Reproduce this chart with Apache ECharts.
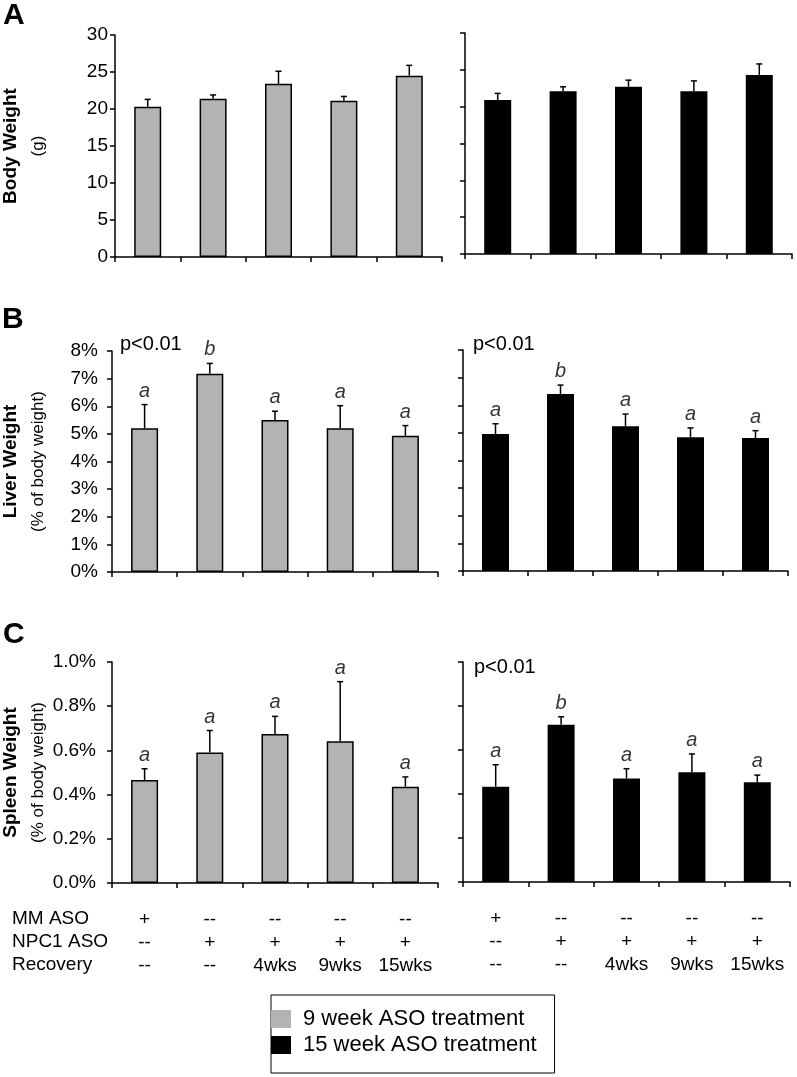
<!DOCTYPE html>
<html><head><meta charset="utf-8">
<script src="https://cdn.jsdelivr.net/npm/echarts@6/dist/echarts.min.js"></script>
<style>html,body{margin:0;padding:0;background:#fff}#c{width:797px;height:1077px}</style>
</head><body><div id="c"></div>
<script>
// ---------- data ----------
const categories = ['G1', 'G2', 'G3', 'G4', 'G5'];
const mmAso = ['+', '--', '--', '--', '--'];
const npc1Aso = ['--', '+', '+', '+', '+'];
const recovery = ['--', '--', '4wks', '9wks', '15wks'];
const rowLabels = ['MM ASO', 'NPC1 ASO', 'Recovery'];
const seriesNames = ['9 week ASO treatment', '15 week ASO treatment'];

const bodyTicks = [0, 5, 10, 15, 20, 25, 30];
const liverTicks = [0, 1, 2, 3, 4, 5, 6, 7, 8];
const spleenTicks = [0, 0.2, 0.4, 0.6, 0.8, 1.0];

const body9 = [20.3, 21.4, 23.4, 21.1, 24.5];
const body9Err = [1.0, 0.5, 1.7, 0.6, 1.4];
const body15 = [20.9, 22.1, 22.7, 22.1, 24.3];
const body15Err = [0.9, 0.6, 0.9, 1.4, 1.5];

const liver9 = [5.2, 7.18, 5.5, 5.2, 4.93];
const liver9Err = [0.86, 0.37, 0.32, 0.82, 0.37];
const liver9Letters = ['a', 'b', 'a', 'a', 'a'];
const liver15 = [4.96, 6.41, 5.24, 4.84, 4.81];
const liver15Err = [0.37, 0.32, 0.44, 0.34, 0.27];
const liver15Letters = ['a', 'b', 'a', 'a', 'a'];

const spleen9 = [0.466, 0.59, 0.674, 0.641, 0.436];
const spleen9Err = [0.051, 0.10, 0.08, 0.27, 0.044];
const spleen9Letters = ['a', 'a', 'a', 'a', 'a'];
const spleen15 = [0.433, 0.715, 0.471, 0.499, 0.453];
const spleen15Err = [0.10, 0.036, 0.044, 0.083, 0.033];
const spleen15Letters = ['a', 'b', 'a', 'a', 'a'];

const pTexts = ['p<0.01', 'p<0.01', 'p<0.01'];
const panelLetters = ['A', 'B', 'C'];

// ---------- build ----------
const FONT = '"Liberation Sans", Arial, sans-serif';
const GRAY = '#b3b3b3';

const panels = [
  { grid: {left: 115, top: 35, width: 327, height: 222}, vals: body9, err: body9Err, letters: null, ticks: bodyTicks, fmt: v => String(v), showY: true, showX: false, color: GRAY, name: seriesNames[0], labMargin: 7, yName: '{b|Body Weight}\n{s|(g)}', nameGap: 61 },
  { grid: {left: 465, top: 33, width: 327, height: 221}, vals: body15, err: body15Err, letters: null, ticks: bodyTicks, fmt: v => String(v), showY: false, showX: false, color: '#000', name: seriesNames[1] },
  { grid: {left: 112, top: 351, width: 326, height: 221}, vals: liver9, err: liver9Err, letters: liver9Letters, ticks: liverTicks, fmt: v => v + '%', showY: true, showX: false, color: GRAY, name: seriesNames[0], labMargin: 14, yName: '{b|Liver Weight}\n{s|(% of body weight)}', nameGap: 58 },
  { grid: {left: 463, top: 350, width: 325, height: 221}, vals: liver15, err: liver15Err, letters: liver15Letters, ticks: liverTicks, fmt: v => v + '%', showY: false, showX: false, color: '#000', name: seriesNames[1] },
  { grid: {left: 112, top: 662, width: 326, height: 221}, vals: spleen9, err: spleen9Err, letters: spleen9Letters, ticks: spleenTicks, fmt: v => v.toFixed(1) + '%', showY: true, showX: true, color: GRAY, name: seriesNames[0], labMargin: 16, yName: '{b|Spleen Weight}\n{s|(% of body weight)}', nameGap: 58 },
  { grid: {left: 463, top: 662, width: 327, height: 220}, vals: spleen15, err: spleen15Err, letters: spleen15Letters, ticks: spleenTicks, fmt: v => v.toFixed(1) + '%', showY: false, showX: true, color: '#000', name: seriesNames[1] }
];

const axisLineStyle = { color: '#000', width: 1.5 };
const grids = [], xAxes = [], yAxes = [], series = [];

panels.forEach((p, k) => {
  grids.push(p.grid);
  xAxes.push({
    type: 'category', gridIndex: k, data: categories,
    axisLine: { lineStyle: axisLineStyle },
    axisTick: { show: true, length: 5, lineStyle: axisLineStyle },
    axisLabel: {
      show: p.showX, interval: 0, margin: 25, color: '#000', fontSize: 19, lineHeight: 23, fontFamily: FONT,
      formatter: (v, i) => mmAso[i] + '\n' + npc1Aso[i] + '\n' + recovery[i]
    }
  });
  const step = p.ticks[1] - p.ticks[0];
  yAxes.push({
    type: 'value', gridIndex: k,
    min: p.ticks[0], max: p.ticks[p.ticks.length - 1], interval: step,
    axisLine: { show: true, lineStyle: axisLineStyle },
    axisTick: { show: true, length: 5, lineStyle: axisLineStyle },
    splitLine: { show: false },
    axisLabel: { show: p.showY, margin: p.labMargin || 8, color: '#000', fontSize: 19, fontFamily: FONT, formatter: p.fmt },
    name: p.yName || '', nameLocation: 'middle', nameRotate: 90, nameGap: p.nameGap || 0,
    nameTextStyle: {
      color: '#000', fontFamily: FONT,
      rich: {
        b: { fontWeight: 'bold', fontSize: 19, lineHeight: 22, color: '#000', fontFamily: FONT },
        s: { fontSize: 17, lineHeight: 32, color: '#000', fontFamily: FONT }
      }
    }
  });
  series.push({
    type: 'bar', name: p.name, xAxisIndex: k, yAxisIndex: k, data: p.vals, barWidth: 27,
    itemStyle: p.color === GRAY ? { color: GRAY, borderColor: '#000', borderWidth: 1.5 } : { color: '#000' },
    silent: true
  });
  series.push({
    type: 'custom', name: 'err' + k, xAxisIndex: k, yAxisIndex: k, z: 5,
    data: p.vals.map((v, i) => [i, v, p.err[i]]),
    encode: { x: 0, y: 1 },
    renderItem: function (params, api) {
      const x = api.value(0), m = api.value(1), e = api.value(2);
      const p0 = api.coord([x, m]), p1 = api.coord([x, m + e]);
      const hw = 3;
      return {
        type: 'group', children: [
          { type: 'line', shape: { x1: p0[0], y1: p0[1], x2: p1[0], y2: p1[1] }, style: { stroke: '#000', lineWidth: 1.5 } },
          { type: 'line', shape: { x1: p1[0] - hw, y1: p1[1], x2: p1[0] + hw, y2: p1[1] }, style: { stroke: '#000', lineWidth: 1.5 } }
        ]
      };
    },
    silent: true
  });
  if (p.letters) {
    series.push({
      type: 'scatter', name: 'sig' + k, xAxisIndex: k, yAxisIndex: k, z: 6,
      data: p.vals.map((v, i) => [i, v + p.err[i]]),
      symbol: 'circle', symbolSize: 1, itemStyle: { color: 'rgba(0,0,0,0)' },
      label: {
        show: true, position: 'top', distance: 3, color: '#000', fontSize: 20, fontStyle: 'italic', fontFamily: FONT,
        formatter: prm => p.letters[prm.dataIndex]
      },
      silent: true
    });
  }
});

const graphic = [];
const letterPos = [[3, 18], [2, 322], [3, 637]];
panelLetters.forEach((t, i) => graphic.push({
  type: 'text', left: letterPos[i][0], top: letterPos[i][1] - 17,
  style: { text: t, font: 'bold 30px ' + FONT, fill: '#000' }
}));
const pPos = [[120, 344], [473, 344], [474, 667]];
pTexts.forEach((t, i) => graphic.push({
  type: 'text', x: pPos[i][0], y: pPos[i][1],
  style: { text: t, font: '20px ' + FONT, fill: '#000', textVerticalAlign: 'middle' }
}));
const rowY = [919, 942, 965];
rowLabels.forEach((t, i) => graphic.push({
  type: 'text', x: 12, y: rowY[i],
  style: { text: t, font: '19px ' + FONT, fill: '#000', textVerticalAlign: 'middle' }
}));

const chart = echarts.init(document.getElementById('c'), null, { renderer: 'canvas' });
chart.setOption({
  backgroundColor: '#fff',
  animation: false,
  textStyle: { fontFamily: FONT },
  grid: grids, xAxis: xAxes, yAxis: yAxes, series: series,
  legend: {
    orient: 'vertical', left: 271, top: 995,
    padding: [13, 18, 17, 0], itemGap: 4,
    itemWidth: 34, itemHeight: 18, symbolKeepAspect: true,
    icon: 'path://M0,0h20v18h-20z',
    borderColor: '#000', borderWidth: 1, backgroundColor: '#fff',
    selectedMode: false,
    textStyle: { fontSize: 22, color: '#000', fontFamily: FONT },
    data: [
      { name: seriesNames[0], itemStyle: { color: GRAY, borderWidth: 0 } },
      { name: seriesNames[1], itemStyle: { color: '#000', borderWidth: 0 } }
    ]
  },
  graphic: graphic
});
</script></body></html>
